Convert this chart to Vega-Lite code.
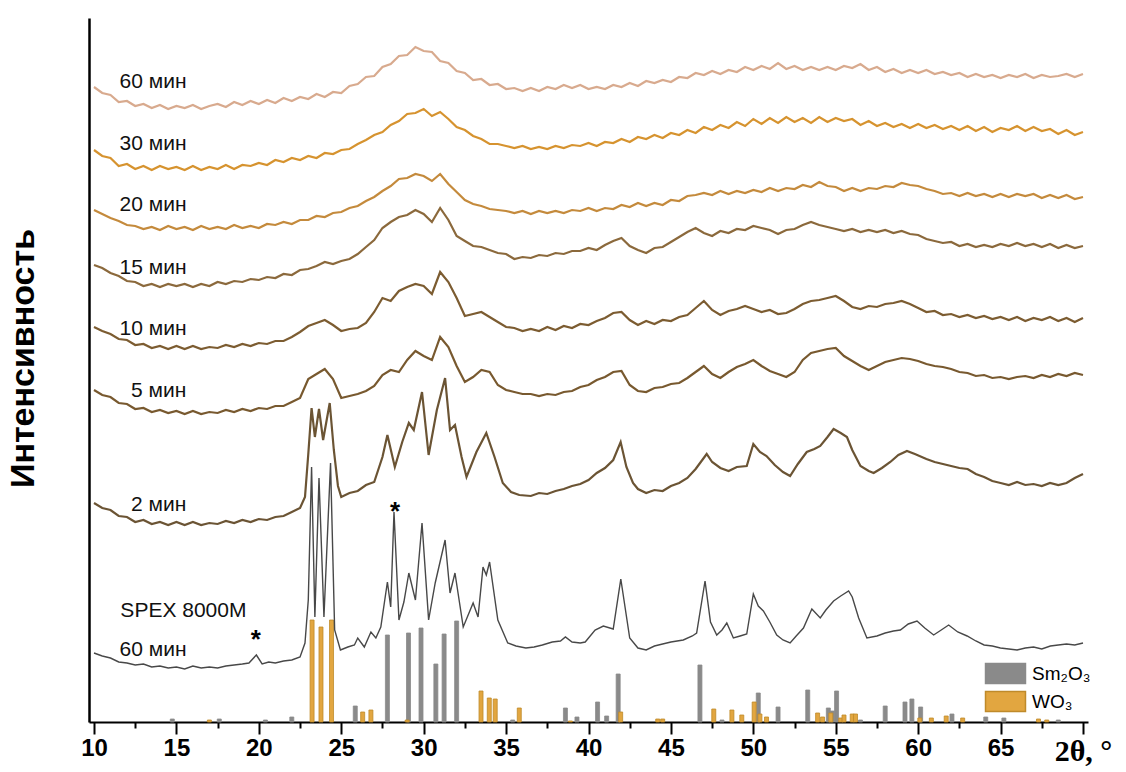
{
"$schema":"https://vega.github.io/schema/vega-lite/v6.json",
"width":999,"height":704,
"autosize":{"type":"none"},
"padding":{"left":89,"top":18,"right":38,"bottom":50},
"background":"white",
"config":{"view":{"stroke":null},"font":"Liberation Sans"},
"datasets":{
"t60":[{"x":10,"y":635},{"x":10.5,"y":629},{"x":11,"y":627},{"x":11.5,"y":620},{"x":12,"y":621},{"x":12.5,"y":616},{"x":13,"y":618},{"x":13.5,"y":614},{"x":14,"y":617},{"x":14.5,"y":613},{"x":15,"y":616},{"x":15.5,"y":614},{"x":16,"y":617},{"x":16.5,"y":613},{"x":17,"y":616},{"x":17.5,"y":618},{"x":18,"y":615},{"x":18.5,"y":620},{"x":19,"y":617},{"x":19.5,"y":621},{"x":20,"y":618},{"x":20.5,"y":622},{"x":21,"y":619},{"x":21.5,"y":624},{"x":22,"y":621},{"x":22.5,"y":625},{"x":23,"y":623},{"x":23.5,"y":628},{"x":24,"y":625},{"x":24.5,"y":630},{"x":25,"y":629},{"x":25.5,"y":636},{"x":26,"y":638},{"x":26.5,"y":645},{"x":27,"y":646},{"x":27.5,"y":655},{"x":28,"y":658},{"x":28.5,"y":666},{"x":29,"y":667},{"x":29.5,"y":675},{"x":30,"y":671},{"x":30.5,"y":670},{"x":31,"y":661},{"x":31.5,"y":659},{"x":32,"y":651},{"x":32.5,"y":649},{"x":33,"y":642},{"x":33.5,"y":643},{"x":34,"y":637},{"x":34.5,"y":638},{"x":35,"y":633},{"x":35.5,"y":634},{"x":36,"y":631},{"x":36.5,"y":634},{"x":37,"y":631},{"x":37.5,"y":635},{"x":38,"y":633},{"x":38.5,"y":637},{"x":39,"y":634},{"x":39.5,"y":637},{"x":40,"y":633},{"x":40.5,"y":635},{"x":41,"y":633},{"x":41.5,"y":637},{"x":42,"y":635},{"x":42.5,"y":639},{"x":43,"y":636},{"x":43.5,"y":641},{"x":44,"y":639},{"x":44.5,"y":642},{"x":45,"y":640},{"x":45.5,"y":645},{"x":46,"y":644},{"x":46.5,"y":649},{"x":47,"y":647},{"x":47.5,"y":651},{"x":48,"y":648},{"x":48.5,"y":652},{"x":49,"y":650},{"x":49.5,"y":655},{"x":50,"y":652},{"x":50.5,"y":656},{"x":51,"y":653},{"x":51.5,"y":659},{"x":52,"y":653},{"x":52.5,"y":656},{"x":53,"y":652},{"x":53.5,"y":655},{"x":54,"y":652},{"x":54.5,"y":655},{"x":55,"y":652},{"x":55.5,"y":656},{"x":56,"y":654},{"x":56.5,"y":658},{"x":57,"y":652},{"x":57.5,"y":655},{"x":58,"y":650},{"x":58.5,"y":653},{"x":59,"y":649},{"x":59.5,"y":652},{"x":60,"y":649},{"x":60.5,"y":652},{"x":61,"y":648},{"x":61.5,"y":650},{"x":62,"y":647},{"x":62.5,"y":649},{"x":63,"y":645},{"x":63.5,"y":648},{"x":64,"y":645},{"x":64.5,"y":647},{"x":65,"y":644},{"x":65.5,"y":647},{"x":66,"y":645},{"x":66.5,"y":648},{"x":67,"y":644},{"x":67.5,"y":647},{"x":68,"y":645},{"x":68.5,"y":646},{"x":69,"y":648},{"x":69.5,"y":645},{"x":70,"y":648}],
"t30":[{"x":10,"y":572},{"x":10.5,"y":566},{"x":11,"y":564},{"x":11.5,"y":556},{"x":12,"y":558},{"x":12.5,"y":553},{"x":13,"y":556},{"x":13.5,"y":552},{"x":14,"y":556},{"x":14.5,"y":553},{"x":15,"y":555},{"x":15.5,"y":552},{"x":16,"y":556},{"x":16.5,"y":552},{"x":17,"y":555},{"x":17.5,"y":553},{"x":18,"y":557},{"x":18.5,"y":553},{"x":19,"y":557},{"x":19.5,"y":556},{"x":20,"y":559},{"x":20.5,"y":557},{"x":21,"y":562},{"x":21.5,"y":560},{"x":22,"y":564},{"x":22.5,"y":562},{"x":23,"y":566},{"x":23.5,"y":564},{"x":24,"y":569},{"x":24.5,"y":568},{"x":25,"y":572},{"x":25.5,"y":573},{"x":26,"y":578},{"x":26.5,"y":582},{"x":27,"y":587},{"x":27.5,"y":590},{"x":28,"y":597},{"x":28.5,"y":601},{"x":29,"y":608},{"x":29.5,"y":609},{"x":30,"y":613},{"x":30.5,"y":606},{"x":31,"y":610},{"x":31.5,"y":603},{"x":32,"y":595},{"x":32.5,"y":592},{"x":33,"y":586},{"x":33.5,"y":583},{"x":34,"y":578},{"x":34.5,"y":578},{"x":35,"y":576},{"x":35.5,"y":574},{"x":36,"y":576},{"x":36.5,"y":573},{"x":37,"y":575},{"x":37.5,"y":573},{"x":38,"y":576},{"x":38.5,"y":574},{"x":39,"y":577},{"x":39.5,"y":576},{"x":40,"y":579},{"x":40.5,"y":576},{"x":41,"y":580},{"x":41.5,"y":579},{"x":42,"y":583},{"x":42.5,"y":580},{"x":43,"y":585},{"x":43.5,"y":583},{"x":44,"y":587},{"x":44.5,"y":584},{"x":45,"y":589},{"x":45.5,"y":587},{"x":46,"y":592},{"x":46.5,"y":589},{"x":47,"y":595},{"x":47.5,"y":592},{"x":48,"y":597},{"x":48.5,"y":594},{"x":49,"y":600},{"x":49.5,"y":596},{"x":50,"y":603},{"x":50.5,"y":598},{"x":51,"y":604},{"x":51.5,"y":599},{"x":52,"y":605},{"x":52.5,"y":600},{"x":53,"y":604},{"x":53.5,"y":599},{"x":54,"y":605},{"x":54.5,"y":600},{"x":55,"y":604},{"x":55.5,"y":601},{"x":56,"y":603},{"x":56.5,"y":597},{"x":57,"y":601},{"x":57.5,"y":596},{"x":58,"y":599},{"x":58.5,"y":595},{"x":59,"y":598},{"x":59.5,"y":594},{"x":60,"y":598},{"x":60.5,"y":594},{"x":61,"y":597},{"x":61.5,"y":593},{"x":62,"y":596},{"x":62.5,"y":592},{"x":63,"y":596},{"x":63.5,"y":591},{"x":64,"y":595},{"x":64.5,"y":590},{"x":65,"y":594},{"x":65.5,"y":592},{"x":66,"y":596},{"x":66.5,"y":591},{"x":67,"y":595},{"x":67.5,"y":591},{"x":68,"y":593},{"x":68.5,"y":588},{"x":69,"y":592},{"x":69.5,"y":587},{"x":70,"y":590}],
"t20":[{"x":10,"y":512},{"x":10.5,"y":508},{"x":11,"y":504},{"x":11.5,"y":501},{"x":12,"y":497},{"x":12.5,"y":496},{"x":13,"y":493},{"x":13.5,"y":495},{"x":14,"y":492},{"x":14.5,"y":496},{"x":15,"y":493},{"x":15.5,"y":495},{"x":16,"y":492},{"x":16.5,"y":496},{"x":17,"y":493},{"x":17.5,"y":495},{"x":18,"y":493},{"x":18.5,"y":497},{"x":19,"y":494},{"x":19.5,"y":496},{"x":20,"y":494},{"x":20.5,"y":498},{"x":21,"y":497},{"x":21.5,"y":500},{"x":22,"y":498},{"x":22.5,"y":502},{"x":23,"y":502},{"x":23.5,"y":506},{"x":24,"y":505},{"x":24.5,"y":509},{"x":25,"y":510},{"x":25.5,"y":514},{"x":26,"y":516},{"x":26.5,"y":521},{"x":27,"y":525},{"x":27.5,"y":531},{"x":28,"y":536},{"x":28.5,"y":543},{"x":29,"y":544},{"x":29.5,"y":548},{"x":30,"y":546},{"x":30.5,"y":541},{"x":31,"y":548},{"x":31.5,"y":538},{"x":32,"y":530},{"x":32.5,"y":522},{"x":33,"y":518},{"x":33.5,"y":516},{"x":34,"y":513},{"x":34.5,"y":512},{"x":35,"y":511},{"x":35.5,"y":509},{"x":36,"y":511},{"x":36.5,"y":508},{"x":37,"y":511},{"x":37.5,"y":509},{"x":38,"y":511},{"x":38.5,"y":509},{"x":39,"y":512},{"x":39.5,"y":511},{"x":40,"y":514},{"x":40.5,"y":511},{"x":41,"y":514},{"x":41.5,"y":513},{"x":42,"y":517},{"x":42.5,"y":515},{"x":43,"y":519},{"x":43.5,"y":516},{"x":44,"y":519},{"x":44.5,"y":517},{"x":45,"y":522},{"x":45.5,"y":521},{"x":46,"y":526},{"x":46.5,"y":527},{"x":47,"y":529},{"x":47.5,"y":527},{"x":48,"y":531},{"x":48.5,"y":528},{"x":49,"y":531},{"x":49.5,"y":529},{"x":50,"y":532},{"x":50.5,"y":530},{"x":51,"y":534},{"x":51.5,"y":531},{"x":52,"y":534},{"x":52.5,"y":533},{"x":53,"y":537},{"x":53.5,"y":535},{"x":54,"y":540},{"x":54.5,"y":536},{"x":55,"y":535},{"x":55.5,"y":531},{"x":56,"y":534},{"x":56.5,"y":531},{"x":57,"y":534},{"x":57.5,"y":533},{"x":58,"y":536},{"x":58.5,"y":535},{"x":59,"y":539},{"x":59.5,"y":537},{"x":60,"y":536},{"x":60.5,"y":533},{"x":61,"y":531},{"x":61.5,"y":528},{"x":62,"y":529},{"x":62.5,"y":526},{"x":63,"y":529},{"x":63.5,"y":526},{"x":64,"y":528},{"x":64.5,"y":525},{"x":65,"y":528},{"x":65.5,"y":525},{"x":66,"y":528},{"x":66.5,"y":526},{"x":67,"y":528},{"x":67.5,"y":524},{"x":68,"y":527},{"x":68.5,"y":524},{"x":69,"y":527},{"x":69.5,"y":523},{"x":70,"y":525}],
"t15":[{"x":10,"y":457},{"x":10.5,"y":454},{"x":11,"y":449},{"x":11.5,"y":446},{"x":12,"y":441},{"x":12.5,"y":440},{"x":13,"y":436},{"x":13.5,"y":438},{"x":14,"y":435},{"x":14.5,"y":438},{"x":15,"y":436},{"x":15.5,"y":438},{"x":16,"y":435},{"x":16.5,"y":438},{"x":17,"y":436},{"x":17.5,"y":440},{"x":18,"y":438},{"x":18.5,"y":441},{"x":19,"y":440},{"x":19.5,"y":443},{"x":20,"y":442},{"x":20.5,"y":445},{"x":21,"y":444},{"x":21.5,"y":448},{"x":22,"y":447},{"x":22.5,"y":452},{"x":23,"y":453},{"x":23.5,"y":456},{"x":24,"y":460},{"x":24.5,"y":458},{"x":25,"y":461},{"x":25.5,"y":463},{"x":26,"y":468},{"x":26.5,"y":475},{"x":27,"y":482},{"x":27.5,"y":494},{"x":28,"y":500},{"x":28.5,"y":505},{"x":29,"y":507},{"x":29.5,"y":512},{"x":30,"y":508},{"x":30.5,"y":500},{"x":31,"y":514},{"x":31.5,"y":502},{"x":32,"y":486},{"x":32.5,"y":481},{"x":33,"y":476},{"x":33.5,"y":475},{"x":34,"y":472},{"x":34.5,"y":469},{"x":35,"y":468},{"x":35.5,"y":463},{"x":36,"y":465},{"x":36.5,"y":464},{"x":37,"y":467},{"x":37.5,"y":466},{"x":38,"y":469},{"x":38.5,"y":468},{"x":39,"y":471},{"x":39.5,"y":471},{"x":40,"y":474},{"x":40.5,"y":472},{"x":41,"y":477},{"x":41.5,"y":481},{"x":42,"y":484},{"x":42.5,"y":476},{"x":43,"y":472},{"x":43.5,"y":469},{"x":44,"y":474},{"x":44.5,"y":475},{"x":45,"y":480},{"x":45.5,"y":485},{"x":46,"y":490},{"x":46.5,"y":494},{"x":47,"y":489},{"x":47.5,"y":486},{"x":48,"y":491},{"x":48.5,"y":489},{"x":49,"y":493},{"x":49.5,"y":492},{"x":50,"y":496},{"x":50.5,"y":494},{"x":51,"y":492},{"x":51.5,"y":488},{"x":52,"y":492},{"x":52.5,"y":493},{"x":53,"y":497},{"x":53.5,"y":500},{"x":54,"y":497},{"x":54.5,"y":495},{"x":55,"y":493},{"x":55.5,"y":491},{"x":56,"y":493},{"x":56.5,"y":490},{"x":57,"y":492},{"x":57.5,"y":490},{"x":58,"y":492},{"x":58.5,"y":489},{"x":59,"y":491},{"x":59.5,"y":488},{"x":60,"y":487},{"x":60.5,"y":483},{"x":61,"y":481},{"x":61.5,"y":479},{"x":62,"y":480},{"x":62.5,"y":476},{"x":63,"y":478},{"x":63.5,"y":475},{"x":64,"y":477},{"x":64.5,"y":475},{"x":65,"y":478},{"x":65.5,"y":476},{"x":66,"y":479},{"x":66.5,"y":476},{"x":67,"y":478},{"x":67.5,"y":475},{"x":68,"y":478},{"x":68.5,"y":474},{"x":69,"y":477},{"x":69.5,"y":474},{"x":70,"y":476}],
"t10":[{"x":10,"y":395},{"x":10.5,"y":391},{"x":11,"y":388},{"x":11.5,"y":383},{"x":12,"y":382},{"x":12.5,"y":377},{"x":13,"y":378},{"x":13.5,"y":374},{"x":14,"y":376},{"x":14.5,"y":373},{"x":15,"y":376},{"x":15.5,"y":373},{"x":16,"y":376},{"x":16.5,"y":373},{"x":17,"y":375},{"x":17.5,"y":374},{"x":18,"y":377},{"x":18.5,"y":375},{"x":19,"y":378},{"x":19.5,"y":376},{"x":20,"y":379},{"x":20.5,"y":378},{"x":21,"y":381},{"x":21.5,"y":381},{"x":22,"y":385},{"x":22.5,"y":390},{"x":23,"y":396},{"x":23.5,"y":399},{"x":24,"y":402},{"x":24.5,"y":397},{"x":25,"y":391},{"x":25.5,"y":393},{"x":26,"y":394},{"x":26.5,"y":399},{"x":27,"y":410},{"x":27.5,"y":424},{"x":28,"y":421},{"x":28.5,"y":431},{"x":29,"y":435},{"x":29.5,"y":438},{"x":30,"y":436},{"x":30.5,"y":428},{"x":31,"y":450},{"x":31.5,"y":440},{"x":32,"y":424},{"x":32.5,"y":406},{"x":33,"y":408},{"x":33.5,"y":410},{"x":34,"y":405},{"x":34.5,"y":400},{"x":35,"y":395},{"x":35.5,"y":394},{"x":36,"y":391},{"x":36.5,"y":393},{"x":37,"y":391},{"x":37.5,"y":395},{"x":38,"y":392},{"x":38.5,"y":396},{"x":39,"y":394},{"x":39.5,"y":398},{"x":40,"y":397},{"x":40.5,"y":401},{"x":41,"y":404},{"x":41.5,"y":409},{"x":42,"y":410},{"x":42.5,"y":402},{"x":43,"y":397},{"x":43.5,"y":401},{"x":44,"y":398},{"x":44.5,"y":402},{"x":45,"y":401},{"x":45.5,"y":405},{"x":46,"y":407},{"x":46.5,"y":414},{"x":47,"y":421},{"x":47.5,"y":412},{"x":48,"y":407},{"x":48.5,"y":411},{"x":49,"y":413},{"x":49.5,"y":416},{"x":50,"y":413},{"x":50.5,"y":410},{"x":51,"y":412},{"x":51.5,"y":408},{"x":52,"y":409},{"x":52.5,"y":413},{"x":53,"y":418},{"x":53.5,"y":421},{"x":54,"y":422},{"x":54.5,"y":424},{"x":55,"y":426},{"x":55.5,"y":421},{"x":56,"y":415},{"x":56.5,"y":413},{"x":57,"y":416},{"x":57.5,"y":415},{"x":58,"y":418},{"x":58.5,"y":419},{"x":59,"y":421},{"x":59.5,"y":418},{"x":60,"y":414},{"x":60.5,"y":410},{"x":61,"y":411},{"x":61.5,"y":407},{"x":62,"y":408},{"x":62.5,"y":405},{"x":63,"y":407},{"x":63.5,"y":404},{"x":64,"y":406},{"x":64.5,"y":403},{"x":65,"y":405},{"x":65.5,"y":402},{"x":66,"y":405},{"x":66.5,"y":401},{"x":67,"y":404},{"x":67.5,"y":402},{"x":68,"y":405},{"x":68.5,"y":401},{"x":69,"y":404},{"x":69.5,"y":400},{"x":70,"y":404}],
"t5":[{"x":10,"y":332},{"x":10.5,"y":327},{"x":11,"y":325},{"x":11.5,"y":319},{"x":12,"y":318},{"x":12.5,"y":313},{"x":13,"y":314},{"x":13.5,"y":310},{"x":14,"y":312},{"x":14.5,"y":309},{"x":15,"y":311},{"x":15.5,"y":308},{"x":16,"y":311},{"x":16.5,"y":308},{"x":17,"y":310},{"x":17.5,"y":309},{"x":18,"y":312},{"x":18.5,"y":310},{"x":19,"y":313},{"x":19.5,"y":311},{"x":20,"y":314},{"x":20.5,"y":313},{"x":21,"y":316},{"x":21.5,"y":316},{"x":22,"y":320},{"x":22.5,"y":324},{"x":23,"y":343},{"x":23.5,"y":348},{"x":24,"y":353},{"x":24.5,"y":343},{"x":25,"y":324},{"x":25.5,"y":326},{"x":26,"y":328},{"x":26.5,"y":331},{"x":27,"y":336},{"x":27.5,"y":347},{"x":28,"y":352},{"x":28.5,"y":350},{"x":29,"y":362},{"x":29.5,"y":371},{"x":30,"y":366},{"x":30.5,"y":362},{"x":31,"y":385},{"x":31.5,"y":375},{"x":32,"y":356},{"x":32.5,"y":340},{"x":33,"y":345},{"x":33.5,"y":352},{"x":34,"y":350},{"x":34.5,"y":337},{"x":35,"y":332},{"x":35.5,"y":330},{"x":36,"y":328},{"x":36.5,"y":328},{"x":37,"y":326},{"x":37.5,"y":328},{"x":38,"y":327},{"x":38.5,"y":330},{"x":39,"y":331},{"x":39.5,"y":335},{"x":40,"y":337},{"x":40.5,"y":342},{"x":41,"y":345},{"x":41.5,"y":350},{"x":42,"y":351},{"x":42.5,"y":337},{"x":43,"y":331},{"x":43.5,"y":330},{"x":44,"y":334},{"x":44.5,"y":335},{"x":45,"y":338},{"x":45.5,"y":339},{"x":46,"y":344},{"x":46.5,"y":350},{"x":47,"y":356},{"x":47.5,"y":348},{"x":48,"y":344},{"x":48.5,"y":350},{"x":49,"y":355},{"x":49.5,"y":358},{"x":50,"y":362},{"x":50.5,"y":356},{"x":51,"y":351},{"x":51.5,"y":348},{"x":52,"y":345},{"x":52.5,"y":350},{"x":53,"y":362},{"x":53.5,"y":369},{"x":54,"y":371},{"x":54.5,"y":373},{"x":55,"y":374},{"x":55.5,"y":366},{"x":56,"y":361},{"x":56.5,"y":356},{"x":57,"y":352},{"x":57.5,"y":356},{"x":58,"y":360},{"x":58.5,"y":362},{"x":59,"y":364},{"x":59.5,"y":363},{"x":60,"y":361},{"x":60.5,"y":358},{"x":61,"y":356},{"x":61.5,"y":355},{"x":62,"y":353},{"x":62.5,"y":350},{"x":63,"y":349},{"x":63.5,"y":346},{"x":64,"y":347},{"x":64.5,"y":344},{"x":65,"y":345},{"x":65.5,"y":343},{"x":66,"y":345},{"x":66.5,"y":346},{"x":67,"y":344},{"x":67.5,"y":347},{"x":68,"y":345},{"x":68.5,"y":348},{"x":69,"y":346},{"x":69.5,"y":349},{"x":70,"y":347}],
"t2":[{"x":10,"y":219},{"x":10.5,"y":214},{"x":11,"y":212},{"x":11.5,"y":206},{"x":12,"y":205},{"x":12.5,"y":200},{"x":13,"y":202},{"x":13.5,"y":198},{"x":14,"y":200},{"x":14.5,"y":197},{"x":15,"y":200},{"x":15.5,"y":197},{"x":16,"y":200},{"x":16.5,"y":197},{"x":17,"y":199},{"x":17.5,"y":198},{"x":18,"y":201},{"x":18.5,"y":199},{"x":19,"y":202},{"x":19.5,"y":200},{"x":20,"y":203},{"x":20.5,"y":202},{"x":21,"y":205},{"x":21.5,"y":206},{"x":22,"y":210},{"x":22.5,"y":214},{"x":22.8,"y":225},{"x":23.0,"y":268},{"x":23.2,"y":314},{"x":23.4,"y":285},{"x":23.65,"y":313},{"x":23.9,"y":282},{"x":24.3,"y":319},{"x":24.55,"y":272},{"x":24.8,"y":236},{"x":25.0,"y":225},{"x":25.5,"y":229},{"x":26,"y":231},{"x":26.5,"y":237},{"x":27,"y":240},{"x":27.5,"y":265},{"x":27.8,"y":287},{"x":28.25,"y":255},{"x":28.7,"y":280},{"x":29.1,"y":299},{"x":29.4,"y":292},{"x":29.9,"y":330},{"x":30.3,"y":267},{"x":30.8,"y":312},{"x":31.3,"y":344},{"x":31.6,"y":292},{"x":31.9,"y":297},{"x":32.3,"y":265},{"x":32.6,"y":245},{"x":33.2,"y":270},{"x":33.8,"y":289},{"x":34.3,"y":265},{"x":34.8,"y":239},{"x":35.3,"y":230},{"x":35.8,"y":227},{"x":36.5,"y":226},{"x":37,"y":229},{"x":37.5,"y":228},{"x":38,"y":231},{"x":38.5,"y":233},{"x":39,"y":236},{"x":39.5,"y":238},{"x":40,"y":242},{"x":40.5,"y":249},{"x":41,"y":254},{"x":41.5,"y":262},{"x":41.95,"y":280},{"x":42.3,"y":255},{"x":42.7,"y":239},{"x":43,"y":233},{"x":43.5,"y":229},{"x":44,"y":232},{"x":44.5,"y":231},{"x":45,"y":236},{"x":45.5,"y":239},{"x":46,"y":244},{"x":46.5,"y":253},{"x":47.17,"y":268},{"x":47.5,"y":260},{"x":48,"y":254},{"x":48.5,"y":251},{"x":49,"y":255},{"x":49.6,"y":256},{"x":50.0,"y":278},{"x":50.4,"y":270},{"x":50.8,"y":266},{"x":51.3,"y":257},{"x":51.8,"y":250},{"x":52.23,"y":246},{"x":52.7,"y":258},{"x":53.24,"y":270},{"x":53.7,"y":273},{"x":54.06,"y":276},{"x":54.5,"y":285},{"x":54.87,"y":293},{"x":55.3,"y":289},{"x":55.68,"y":285},{"x":56,"y":272},{"x":56.5,"y":256},{"x":57,"y":251},{"x":57.3,"y":249},{"x":57.8,"y":254},{"x":58.31,"y":260},{"x":58.8,"y":267},{"x":59.32,"y":271},{"x":59.8,"y":268},{"x":60.5,"y":263},{"x":61,"y":260},{"x":61.5,"y":258},{"x":62,"y":256},{"x":62.5,"y":254},{"x":63,"y":253},{"x":63.5,"y":248},{"x":64,"y":245},{"x":64.5,"y":241},{"x":65,"y":239},{"x":65.5,"y":237},{"x":66,"y":240},{"x":66.5,"y":237},{"x":67,"y":238},{"x":67.5,"y":236},{"x":68,"y":239},{"x":68.5,"y":237},{"x":69,"y":239},{"x":69.5,"y":244},{"x":70,"y":248}],
"spex":[{"x":10,"y":69},{"x":10.5,"y":66},{"x":11,"y":64},{"x":11.5,"y":60},{"x":12,"y":59},{"x":12.5,"y":57},{"x":13,"y":58},{"x":13.5,"y":55},{"x":14,"y":56},{"x":14.5,"y":54},{"x":15,"y":55},{"x":15.5,"y":53},{"x":16,"y":56},{"x":16.5,"y":54},{"x":17,"y":55},{"x":17.5,"y":54},{"x":18,"y":56},{"x":18.5,"y":57},{"x":19,"y":58},{"x":19.4,"y":59},{"x":19.85,"y":67},{"x":20.2,"y":58},{"x":20.6,"y":60},{"x":21,"y":59},{"x":21.5,"y":61},{"x":22,"y":62},{"x":22.5,"y":65},{"x":22.8,"y":79},{"x":23.0,"y":122},{"x":23.2,"y":255},{"x":23.4,"y":105},{"x":23.65,"y":244},{"x":23.95,"y":105},{"x":24.35,"y":259},{"x":24.6,"y":92},{"x":24.95,"y":72},{"x":25.4,"y":75},{"x":25.8,"y":77},{"x":26.0,"y":84},{"x":26.4,"y":75},{"x":26.8,"y":90},{"x":27.1,"y":84},{"x":27.4,"y":95},{"x":27.8,"y":140},{"x":28.0,"y":115},{"x":28.2,"y":210},{"x":28.5,"y":102},{"x":28.8,"y":120},{"x":29.1,"y":149},{"x":29.5,"y":122},{"x":29.9,"y":199},{"x":30.3,"y":102},{"x":30.7,"y":139},{"x":31.3,"y":182},{"x":31.6,"y":129},{"x":31.9,"y":149},{"x":32.4,"y":95},{"x":33.0,"y":119},{"x":33.3,"y":105},{"x":33.6,"y":155},{"x":33.8,"y":147},{"x":34.0,"y":160},{"x":34.5,"y":102},{"x":35.1,"y":79},{"x":35.6,"y":76},{"x":36.2,"y":74},{"x":36.7,"y":75},{"x":37.2,"y":77},{"x":37.8,"y":80},{"x":38.3,"y":81},{"x":38.6,"y":85},{"x":39.0,"y":80},{"x":39.5,"y":79},{"x":39.8,"y":80},{"x":40.4,"y":92},{"x":40.9,"y":96},{"x":41.5,"y":93},{"x":41.96,"y":143},{"x":42.5,"y":84},{"x":43,"y":74},{"x":43.5,"y":72},{"x":44,"y":76},{"x":44.5,"y":78},{"x":45,"y":80},{"x":45.75,"y":82},{"x":46.3,"y":86},{"x":46.56,"y":89},{"x":47.07,"y":141},{"x":47.4,"y":100},{"x":47.78,"y":87},{"x":48.1,"y":92},{"x":48.39,"y":99},{"x":48.79,"y":84},{"x":49.2,"y":86},{"x":49.6,"y":88},{"x":50.0,"y":128},{"x":50.3,"y":116},{"x":50.61,"y":111},{"x":51.0,"y":100},{"x":51.42,"y":87},{"x":51.8,"y":82},{"x":52.23,"y":79},{"x":52.6,"y":86},{"x":53.04,"y":94},{"x":53.55,"y":113},{"x":54.06,"y":104},{"x":54.4,"y":112},{"x":54.87,"y":121},{"x":55.3,"y":126},{"x":55.78,"y":131},{"x":56.0,"y":125},{"x":56.39,"y":104},{"x":56.89,"y":84},{"x":57.5,"y":86},{"x":58.0,"y":89},{"x":58.5,"y":91},{"x":58.92,"y":92},{"x":59.4,"y":98},{"x":59.93,"y":101},{"x":60.4,"y":94},{"x":60.94,"y":87},{"x":61.4,"y":92},{"x":61.85,"y":97},{"x":62.4,"y":90},{"x":62.97,"y":86},{"x":63.5,"y":81},{"x":64,"y":77},{"x":64.5,"y":76},{"x":64.99,"y":74},{"x":65.5,"y":73},{"x":66.0,"y":72},{"x":66.5,"y":74},{"x":67,"y":75},{"x":67.5,"y":73},{"x":68.02,"y":76},{"x":68.5,"y":77},{"x":69,"y":78},{"x":69.5,"y":77},{"x":70,"y":79}],
"sticks":[{"p":"Sm₂O₃","x":14.75,"y":3},{"p":"Sm₂O₃","x":17.6,"y":3},{"p":"Sm₂O₃","x":20.4,"y":2},{"p":"Sm₂O₃","x":22.0,"y":5},{"p":"Sm₂O₃","x":25.85,"y":16},{"p":"Sm₂O₃","x":27.8,"y":87},{"p":"Sm₂O₃","x":29.08,"y":89},{"p":"Sm₂O₃","x":29.84,"y":94},{"p":"Sm₂O₃","x":30.74,"y":58},{"p":"Sm₂O₃","x":31.24,"y":88},{"p":"Sm₂O₃","x":32.0,"y":101},{"p":"Sm₂O₃","x":35.4,"y":2},{"p":"Sm₂O₃","x":38.6,"y":14},{"p":"Sm₂O₃","x":39.3,"y":5},{"p":"Sm₂O₃","x":40.55,"y":20},{"p":"Sm₂O₃","x":41.1,"y":6},{"p":"Sm₂O₃","x":41.8,"y":48},{"p":"Sm₂O₃","x":46.76,"y":57},{"p":"Sm₂O₃","x":48.1,"y":2},{"p":"Sm₂O₃","x":50.3,"y":29},{"p":"Sm₂O₃","x":51.5,"y":15},{"p":"Sm₂O₃","x":53.3,"y":32},{"p":"Sm₂O₃","x":54.55,"y":14},{"p":"Sm₂O₃","x":54.8,"y":11},{"p":"Sm₂O₃","x":55.05,"y":31},{"p":"Sm₂O₃","x":56.5,"y":2},{"p":"Sm₂O₃","x":58.0,"y":16},{"p":"Sm₂O₃","x":59.2,"y":20},{"p":"Sm₂O₃","x":59.62,"y":23},{"p":"Sm₂O₃","x":60.15,"y":15},{"p":"Sm₂O₃","x":62.05,"y":8},{"p":"Sm₂O₃","x":64.1,"y":5},{"p":"Sm₂O₃","x":65.2,"y":4},{"p":"Sm₂O₃","x":68.5,"y":2},
{"p":"WO₃","x":17.0,"y":2},{"p":"WO₃","x":23.23,"y":102},{"p":"WO₃","x":23.77,"y":95},{"p":"WO₃","x":24.41,"y":102},{"p":"WO₃","x":26.3,"y":10},{"p":"WO₃","x":26.8,"y":12},{"p":"WO₃","x":29.0,"y":2},{"p":"WO₃","x":33.48,"y":31},{"p":"WO₃","x":33.98,"y":24},{"p":"WO₃","x":34.34,"y":23},{"p":"WO₃","x":35.8,"y":14},{"p":"WO₃","x":38.9,"y":1},{"p":"WO₃","x":41.95,"y":10},{"p":"WO₃","x":44.2,"y":3},{"p":"WO₃","x":44.5,"y":3},{"p":"WO₃","x":47.6,"y":13},{"p":"WO₃","x":48.7,"y":12},{"p":"WO₃","x":49.3,"y":7},{"p":"WO₃","x":50.05,"y":20},{"p":"WO₃","x":50.4,"y":8},{"p":"WO₃","x":50.8,"y":5},{"p":"WO₃","x":53.9,"y":9},{"p":"WO₃","x":54.2,"y":5},{"p":"WO₃","x":54.7,"y":9},{"p":"WO₃","x":55.3,"y":4},{"p":"WO₃","x":55.5,"y":7},{"p":"WO₃","x":56.0,"y":8},{"p":"WO₃","x":56.2,"y":8},{"p":"WO₃","x":60.1,"y":4},{"p":"WO₃","x":60.8,"y":4},{"p":"WO₃","x":61.7,"y":6},{"p":"WO₃","x":62.7,"y":4},{"p":"WO₃","x":67.3,"y":3},{"p":"WO₃","x":67.8,"y":2}],
"labels":[{"x":11.55,"y":640,"txt":"60 мин"},{"x":11.55,"y":578,"txt":"30 мин"},{"x":11.55,"y":517,"txt":"20 мин"},{"x":11.55,"y":454,"txt":"15 мин"},{"x":11.55,"y":393,"txt":"10 мин"},{"x":12.25,"y":331,"txt":"5 мин"},{"x":12.25,"y":217,"txt":"2 мин"},{"x":11.6,"y":111,"txt":"SPEX 8000M"},{"x":11.55,"y":72,"txt":"60 мин"}],
"stars":[{"x":19.82,"y":89},{"x":28.26,"y":217}]
},
"encoding":{
"x":{"field":"x","type":"quantitative","scale":{"domain":[10,70],"nice":false,"zero":false},
"axis":{"title":null,"grid":false,"values":[10,12.5,15,17.5,20,22.5,25,27.5,30,32.5,35,37.5,40,42.5,45,47.5,50,52.5,55,57.5,60,62.5,65,67.5,70],
"domainColor":"#000","domainWidth":2,"tickColor":"#000","tickWidth":2,
"tickSize":{"condition":{"test":"datum.value % 5 == 0","value":12},"value":6},
"labelExpr":"datum.value == 70 ? '2θ, °' : (datum.value % 5 == 0 ? format(datum.value, 'd') : '')",
"labelFont":{"condition":{"test":"datum.value == 70","value":"Liberation Serif"},"value":"Liberation Sans"},
"labelFontSize":{"condition":{"test":"datum.value == 70","value":30},"value":24},
"labelFontWeight":"bold","labelColor":"#000","labelPadding":2,"labelOverlap":false,"labelFlush":false,"labelBound":false}},
"y":{"field":"y","type":"quantitative","stack":null,"scale":{"domain":[0,704],"nice":false},
"axis":{"title":"Интенсивность","labels":false,"ticks":false,"grid":false,"domainColor":"#000","domainWidth":2.5,
"titleFont":"Liberation Sans","titleFontSize":34,"titleFontWeight":"bold","titleColor":"#000","titlePadding":49,"titleY":340}}
},
"layer":[
{"data":{"name":"sticks"},"mark":{"type":"bar","size":4,"strokeWidth":0.8},
"encoding":{"color":{"field":"p","type":"nominal","scale":{"domain":["Sm₂O₃","WO₃"],"range":["#8a8a8a","#e2a640"]},
"legend":{"title":null,"orient":"none","legendX":902,"legendY":641,"padding":0,"offset":0,"symbolType":"M-1.48,-0.74H1.48V0.74H-1.48Z","symbolSize":729,"symbolOpacity":1,"labelFont":"Liberation Sans","labelFontSize":19,"labelColor":"#000","labelOffset":12,"rowPadding":0}},
"stroke":{"field":"p","type":"nominal","scale":{"domain":["Sm₂O₃","WO₃"],"range":["#8a8a8a","#bf8a2a"]},"legend":null}}},
{"data":{"name":"spex"},"mark":{"type":"line","color":"#484848","strokeWidth":1.4}},
{"data":{"name":"t2"},"mark":{"type":"line","color":"#6b5434","strokeWidth":2.2}},
{"data":{"name":"t5"},"mark":{"type":"line","color":"#78592f","strokeWidth":2.2}},
{"data":{"name":"t10"},"mark":{"type":"line","color":"#7c5c31","strokeWidth":2.2}},
{"data":{"name":"t15"},"mark":{"type":"line","color":"#8b693c","strokeWidth":2.2}},
{"data":{"name":"t20"},"mark":{"type":"line","color":"#c48a3c","strokeWidth":2.2}},
{"data":{"name":"t30"},"mark":{"type":"line","color":"#d6932f","strokeWidth":2.2}},
{"data":{"name":"t60"},"mark":{"type":"line","color":"#d8aa8e","strokeWidth":2.2}},
{"data":{"name":"labels"},"mark":{"type":"text","align":"left","baseline":"middle","fontSize":21,"font":"Liberation Sans","color":"#111"},"encoding":{"text":{"field":"txt","type":"nominal"}}},
{"data":{"name":"stars"},"mark":{"type":"text","text":"*","align":"center","baseline":"alphabetic","dy":15,"fontSize":26,"fontWeight":"bold","font":"Liberation Sans","color":"#000"}}
]
}
